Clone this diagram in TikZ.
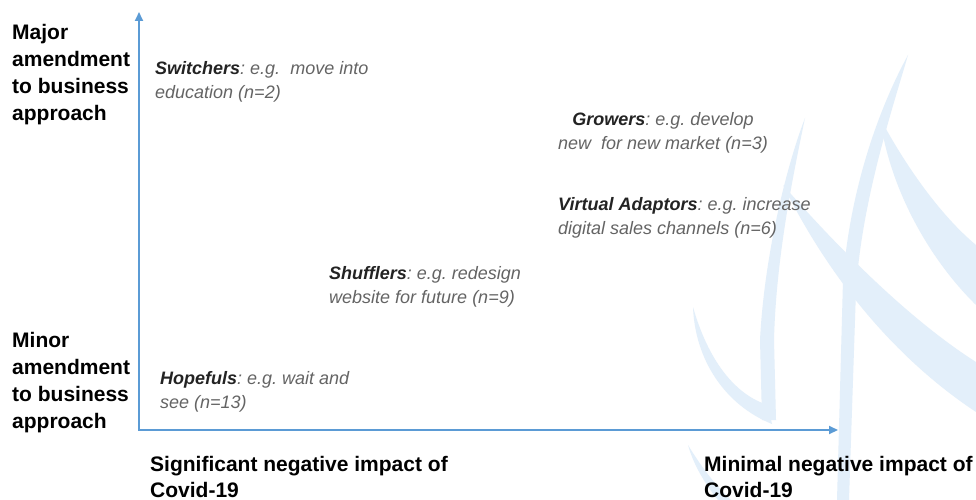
\documentclass[tikz,border=0pt]{standalone}
\usepackage{fontspec}
\setmainfont{Liberation Sans}
\usetikzlibrary{arrows.meta}

\definecolor{axisblue}{RGB}{91,155,213}
\definecolor{wmblue}{RGB}{227,239,250}
\definecolor{notegray}{RGB}{100,100,100}
\definecolor{titlegray}{RGB}{35,35,35}

% bold-italic category name inside a note
\newcommand\kind[1]{{\bfseries\color{titlegray}#1}}

\begin{document}
\begin{tikzpicture}[x=1pt,y=-1pt,
  axislabel/.style={font=\fontsize{21}{27}\selectfont\bfseries, text=black,
    align=left, inner sep=0pt, anchor=base west},
  note/.style={font=\fontsize{18}{24}\selectfont\itshape\frenchspacing, text=notegray,
    align=left, inner sep=0pt, anchor=base west},
  axisline/.style={draw=axisblue, line width=2pt,
    {Triangle[length=9pt,width=8pt]}-{Triangle[length=9pt,width=8pt]}},
  wmshape/.style={fill=wmblue, draw=none}]

\useasboundingbox (0,0) rectangle (976,500);
\fill[white] (0,0) rectangle (976,500);

% faint logo swooshes in the background
\fill[wmshape] (908,55) .. controls (878,110) and (850,190) .. (843,280)
  -- (837,500) -- (849,500) -- (856,290)
  .. controls (862,200) and (892,110) .. cycle;
\fill[wmshape] (805,118) .. controls (785,170) and (764,260) .. (760,340)
  -- (762,420) -- (776,420) -- (774,340)
  .. controls (776,260) and (792,180) .. cycle;
\fill[wmshape] (693,307) .. controls (695,360) and (725,405) .. (772,424)
  -- (768,405) .. controls (735,395) and (708,360) .. cycle;
\fill[wmshape] (783,185) .. controls (840,250) and (910,320) .. (976,362)
  -- (976,412) .. controls (905,365) and (835,290) .. cycle;
\fill[wmshape] (880,118) .. controls (890,190) and (930,260) .. (976,305)
  -- (976,245) .. controls (940,215) and (905,165) .. cycle;
\fill[wmshape] (688,445) .. controls (695,470) and (710,490) .. (718,500)
  -- (731,500) .. controls (715,485) and (700,465) .. cycle;

% axes
\coordinate (ytop) at (139,12);
\coordinate (origin) at (139,430);
\coordinate (xend) at (838,430);
\draw[axisline] (ytop) -- (origin) -- (xend);

% axis labels (placed by the baseline of their last line)
\node[axislabel] (major) at (12,121) {Major\\amendment\\to business\\approach};
\node[axislabel] (minor) at (12,428) {Minor\\amendment\\to business\\approach};
\node[axislabel, font=\fontsize{21}{26}\selectfont\bfseries] (significant) at (150,497)
  {Significant negative impact of\\Covid-19};
\node[axislabel, font=\fontsize{21}{26}\selectfont\bfseries] (minimal) at (704,497)
  {Minimal negative impact of\\Covid-19};

% groups of businesses
\node[note] (switchers) at (155,99) {\kind{Switchers}: e.g.\ \ move into\\education (n=2)};
\node[note, align=center] (growers) at (558,149) {\kind{Growers}: e.g.\ develop\\new\ \ for new market (n=3)};
\node[note] (virtual) at (558,234) {\kind{Virtual Adaptors}:\ e.g.\ increase\\digital sales channels (n=6)};
\node[note] (shufflers) at (329,303) {\kind{Shufflers}: e.g.\ redesign\\website for future (n=9)};
\node[note] (hopefuls) at (160,408) {\kind{Hopefuls}: e.g.\ wait and\\see (n=13)};
\end{tikzpicture}
\end{document}
